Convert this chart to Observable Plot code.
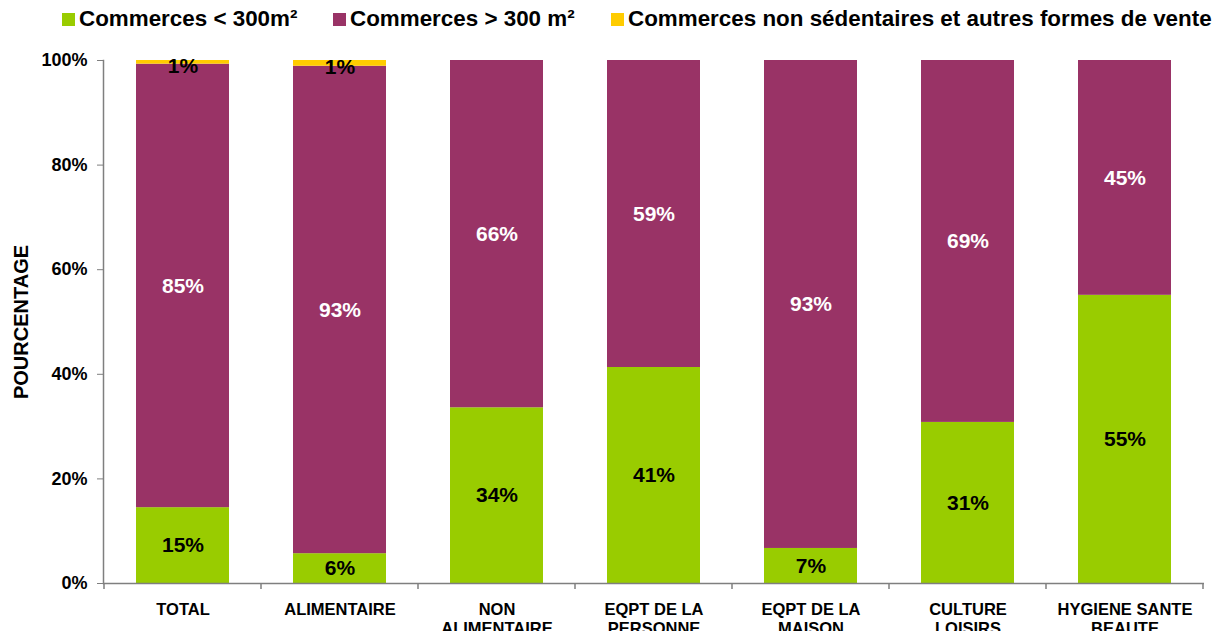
<!DOCTYPE html>
<html><head><meta charset="utf-8">
<script src="https://cdn.jsdelivr.net/npm/d3@7"></script>
<script src="https://cdn.jsdelivr.net/npm/@observablehq/plot@0.6"></script>
<style>
html,body{margin:0;padding:0;background:#fff;overflow:hidden;width:1219px;height:631px}
#legend{position:relative;height:40px;width:1219px;font:bold 22.4px "Liberation Sans",Arial,sans-serif;color:#000}
.item{position:absolute;top:6px;height:26px;display:flex;align-items:center;white-space:nowrap}
.sw{width:13px;height:13px;margin-right:4px;flex:none}
</style></head><body>
<div id="legend"></div><div id="chart"></div>
<script>
const categories = ["TOTAL","ALIMENTAIRE","NON\nALIMENTAIRE","EQPT DE LA\nPERSONNE","EQPT DE LA\nMAISON","CULTURE\nLOISIRS","HYGIENE SANTE\nBEAUTE"];
const series = ["Commerces < 300m²","Commerces > 300 m²","Commerces non sédentaires et autres formes de vente"];
const colors = ["#99CC00","#993366","#FFCC00"];
const small = [14.5,5.7,33.6,41.3,6.7,30.8,55.1];
const large = [84.8,93.2,66.4,58.7,93.3,69.2,44.9];
const other = [0.7,1.1,0,0,0,0,0];
const yTicks = [0,20,40,60,80,100];
const yLabel = "POURCENTAGE";
const legendLeft = [62,333,611];

const values = [small, large, other];
const rows = [];
categories.forEach((c,i) => series.forEach((s,j) => rows.push({cat:c, series:s, value:values[j][i]})));

const leg = document.getElementById("legend");
series.forEach((s,j) => {
  const d = document.createElement("div");
  d.className = "item"; d.style.left = legendLeft[j] + "px";
  d.innerHTML = `<span class="sw" style="background:${colors[j]}"></span><span>${s}</span>`;
  leg.appendChild(d);
});

const font = '"Liberation Sans", Arial, sans-serif';
const lbl = d => d.value > 0 ? Math.round(d.value) + "%" : "";
const padIn = 0.409;
const plot = Plot.plot({
  width:1219, height:591,
  marginLeft:103, marginRight:15, marginTop:20, marginBottom:48,
  style:{fontFamily:font, fontWeight:"bold", color:"#000", background:"#fff", overflow:"visible"},
  x:{domain:categories, paddingInner:padIn, paddingOuter:padIn/2, label:null},
  y:{domain:[0,100], label:null},
  color:{domain:series, range:colors},
  marks:[
    Plot.barY(rows, {x:"cat", y:"value", fill:"series"}),
    Plot.text(rows, Plot.stackY({x:"cat", y:"value", z:"series", text: d => d.series===series[0] ? lbl(d) : "", fill:"#000", fontSize:21, fontWeight:"bold"})),
    Plot.text(rows, Plot.stackY({x:"cat", y:"value", z:"series", text: d => d.series===series[1] ? lbl(d) : "", fill:"#fff", fontSize:21, fontWeight:"bold"})),
    Plot.text(rows, Plot.stackY({x:"cat", y:"value", z:"series", text: d => d.series===series[2] ? lbl(d) : "", fill:"#000", fontSize:21, fontWeight:"bold", dy:4})),
    Plot.axisY({ticks:yTicks, tickFormat:d => d + "%", tickSize:6, tickPadding:10, fontSize:18, fontWeight:"bold", stroke:"#7f7f7f", label:null}),
    Plot.axisX({tickSize:0, tickPadding:17, fontSize:16.5, fontWeight:"bold", lineHeight:1.2, label:null}),
    Plot.text([yLabel], {text:d => d, frameAnchor:"left", textAnchor:"middle", rotate:-90, dx:-81.5, fontSize:20, fontWeight:"bold", fill:"#000"}),
    Plot.ruleY([0], {stroke:"#7f7f7f", strokeWidth:1.5}),
    Plot.frame({anchor:"left", stroke:"#7f7f7f", strokeWidth:1.5})
  ]
});
document.getElementById("chart").appendChild(plot);

// x ticks at band boundaries
const xs = plot.scale("x"), ys = plot.scale("y");
const step = xs.step, bw = xs.bandwidth;
const gap = (step - bw) / 2;
const bounds = categories.map(c => xs.apply(c) - gap);
bounds.push(xs.apply(categories[categories.length-1]) + bw + gap);
const y0 = ys.apply(0);
d3.select(plot).append("g").selectAll("line").data(bounds).join("line")
  .attr("x1", d => d).attr("x2", d => d).attr("y1", y0).attr("y2", y0 + 6)
  .attr("stroke", "#7f7f7f").attr("stroke-width", 1.5);
</script>
</body></html>
